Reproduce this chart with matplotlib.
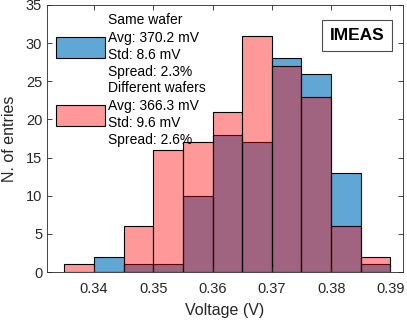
import numpy as np
import matplotlib
matplotlib.use('Agg')
import matplotlib.pyplot as plt

plt.rcParams['font.family'] = ['Liberation Sans', 'DejaVu Sans']

# histogram data (bin edges in V, counts per bin)
edges = [0.335, 0.340, 0.345, 0.350, 0.355, 0.360, 0.365, 0.370, 0.375, 0.380, 0.385, 0.390]
same_wafer = [0, 2, 1, 1, 10, 18, 17, 28, 26, 13, 1]
diff_wafers = [1, 0, 6, 16, 17, 21, 31, 27, 23, 6, 2]

label_same = 'Same wafer\nAvg: 370.2 mV\nStd: 8.6 mV\nSpread: 2.3%'
label_diff = 'Different wafers\nAvg: 366.3 mV\nStd: 9.6 mV\nSpread: 2.6%'

xticks = [0.34, 0.35, 0.36, 0.37, 0.38, 0.39]
yticks = [0, 5, 10, 15, 20, 25, 30, 35]

gray = (0.15, 0.15, 0.15)
blue = (0.0, 0.447, 0.741, 0.62)
red = (1.0, 0.0, 0.0, 0.40)

fig = plt.figure(figsize=(4.07, 3.22), dpi=100)
ax = fig.add_axes([0.1155, 0.155, 0.8745, 0.8295])

lefts = np.array(edges[:-1])
w = np.diff(edges)
ax.bar(lefts, same_wafer, width=w, align='edge', color=blue,
       edgecolor='k', linewidth=0.8, label=label_same)
ax.bar(lefts, diff_wafers, width=w, align='edge', color=red,
       edgecolor='k', linewidth=0.8, label=label_diff)

ax.set_xlim(0.3321, 0.3921)
ax.set_ylim(0, 35)
ax.set_xticks(xticks)
ax.set_xticklabels(['%.2f' % t for t in xticks])
ax.set_yticks(yticks)
ax.tick_params(direction='in', length=3.5, width=0.6, colors=gray,
               labelsize=10.5, top=True, right=True, labeltop=False, labelright=False)
ax.tick_params(axis='x', pad=7)
for s in ax.spines.values():
    s.set_color(gray)
    s.set_linewidth(0.6)

ax.set_xlabel('Voltage (V)', fontsize=11.5, color=gray, labelpad=5)
ax.set_ylabel('N. of entries', fontsize=11.5, color=gray, labelpad=6)

leg = ax.legend(loc='upper left', frameon=False, fontsize=10,
                handlelength=3.5, handleheight=2.0, handletextpad=0.25,
                labelspacing=0.15, borderaxespad=0.0,
                bbox_to_anchor=(0.01, 0.99))
for t in leg.get_texts():
    t.set_linespacing(1.3)

ax.text(0.872, 0.885, 'IMEAS', transform=ax.transAxes, fontsize=12.5,
        fontweight='bold', ha='center', va='center',
        bbox=dict(boxstyle='square,pad=0.45', facecolor='white',
                  edgecolor=(0.3, 0.3, 0.3), linewidth=0.8))

fig.savefig('out.png', dpi=100)
